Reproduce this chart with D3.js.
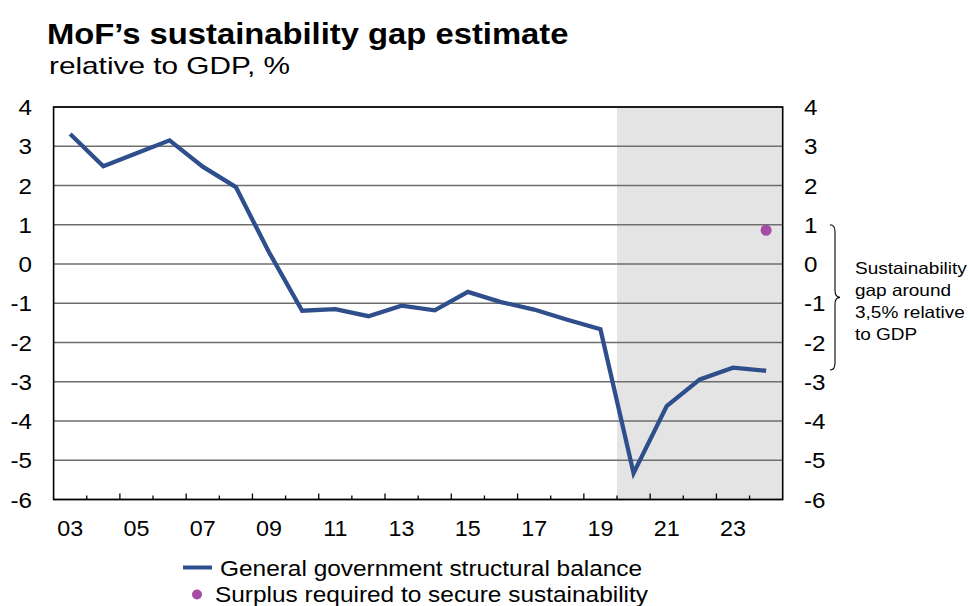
<!DOCTYPE html>
<html>
<head>
<meta charset="utf-8">
<script src="https://cdn.jsdelivr.net/npm/d3@7"></script>
<style>
  body { margin: 0; background: #fff; }
  text { font-family: "Liberation Sans", Arial, sans-serif; fill: #000; }
</style>
</head>
<body>
<svg id="chart" width="970" height="606"></svg>
<script>
// years and values
const years = ["03","04","05","06","07","08","09","10","11","12","13","14","15","16","17","18","19","20","21","22","23","24"];
const balance = [3.31, 2.49, 2.82, 3.15, 2.48, 1.96, 0.3, -1.19, -1.15, -1.33, -1.06, -1.18, -0.71, -0.97, -1.16, -1.42, -1.66, -5.33, -3.62, -2.94, -2.64, -2.72];
const surplusYear = ["24"];
const surplus = [0.86];
const shadeFrom = "20";
const yTicks = [4, 3, 2, 1, 0, -1, -2, -3, -4, -5, -6];
const xLabels = ["03","05","07","09","11","13","15","17","19","21","23"];
const gapNote = ["Sustainability", "gap around", "3,5% relative", "to GDP"];
const braceRange = [1, -2.7];

const lineColor = "#2f4f8c";
const dotColor = "#a54da5";

const svg = d3.select("#chart");
const plotLeft = 53.6, plotRight = 782.7, plotTop = 107, plotBottom = 499.5;

let x = d3.scaleBand().domain(years).range([plotLeft, plotRight]).padding(0);
let y = d3.scaleLinear().domain([-6, 4]).range([plotBottom, plotTop]);

// the source chart's lettering is a bit wider than Arial, so widen it
function widen(sel, k) {
  sel.each(function() {
    let w = this.getComputedTextLength();
    d3.select(this).attr("textLength", w * k).attr("lengthAdjust", "spacingAndGlyphs");
  });
}

// titles
svg.append("text").attr("x", 47).attr("y", 43.5)
  .style("font-size", "29px").style("font-weight", "bold")
  .text("MoF\u2019s sustainability gap estimate")
  .call(widen, 1.13);
svg.append("text").attr("x", 49).attr("y", 74)
  .style("font-size", "24px")
  .text("relative to GDP, %")
  .call(widen, 1.24);

// forecast shading
svg.append("rect")
  .attr("x", x(shadeFrom)).attr("y", plotTop)
  .attr("width", plotRight - x(shadeFrom)).attr("height", plotBottom - plotTop)
  .style("fill", "#e4e4e4");

// gridlines
svg.append("g").selectAll("line")
  .data(yTicks)
  .enter().append("line")
    .attr("x1", plotLeft).attr("x2", plotRight)
    .attr("y1", d => y(d)).attr("y2", d => y(d))
    .style("stroke", "#6e6e6e").style("stroke-width", 1.3);

// x ticks at band edges, long and short alternating
svg.append("g").selectAll("line")
  .data(years.slice(1))
  .enter().append("line")
    .attr("x1", d => x(d)).attr("x2", d => x(d))
    .attr("y1", plotBottom)
    .attr("y2", (d, i) => i % 2 == 1 ? plotBottom - 6 : plotBottom - 4)
    .style("stroke", "#000").style("stroke-width", 1.3);

// plot frame
svg.append("rect")
  .attr("x", plotLeft).attr("y", plotTop)
  .attr("width", plotRight - plotLeft).attr("height", plotBottom - plotTop)
  .style("fill", "none").style("stroke", "#000").style("stroke-width", 1.6);

// y labels both sides
svg.append("g").selectAll("text")
  .data(yTicks)
  .enter().append("text")
    .attr("x", 32).attr("y", d => y(d) + 8)
    .attr("text-anchor", "end")
    .style("font-size", "22px")
    .text(d => d)
    .call(widen, 1.1);
svg.append("g").selectAll("text")
  .data(yTicks)
  .enter().append("text")
    .attr("x", 804).attr("y", d => y(d) + 8)
    .style("font-size", "22px")
    .text(d => d)
    .call(widen, 1.1);

// x labels
svg.append("g").selectAll("text")
  .data(xLabels)
  .enter().append("text")
    .attr("x", d => x(d) + x.bandwidth() / 2)
    .attr("y", 536)
    .attr("text-anchor", "middle")
    .style("font-size", "22px")
    .text(d => d)
    .call(widen, 1.06);

// structural balance line
let line = d3.line()
  .x((d, i) => x(years[i]) + x.bandwidth() / 2)
  .y(d => y(d));
svg.append("path")
  .datum(balance)
  .attr("d", line)
  .style("fill", "none").style("stroke", lineColor)
  .style("stroke-width", 4.3).style("stroke-linejoin", "miter");

// required surplus dot
svg.append("g").selectAll("circle")
  .data(surplus)
  .enter().append("circle")
    .attr("cx", (d, i) => x(surplusYear[i]) + x.bandwidth() / 2)
    .attr("cy", d => y(d))
    .attr("r", 5.5)
    .style("fill", dotColor);

// brace
let b0 = y(braceRange[0]), b1 = y(braceRange[1]), bm = (b0 + b1) / 2;
let bx = 835;
svg.append("path")
  .attr("d", `M${bx - 5},${b0} Q${bx},${b0} ${bx},${b0 + 7} L${bx},${bm - 7} Q${bx},${bm} ${bx + 5},${bm}`
    + ` Q${bx},${bm} ${bx},${bm + 7} L${bx},${b1 - 7} Q${bx},${b1} ${bx - 5},${b1}`)
  .style("fill", "none").style("stroke", "#000").style("stroke-width", 1.1);

svg.append("g").selectAll("text")
  .data(gapNote)
  .enter().append("text")
    .attr("x", 855).attr("y", (d, i) => 274 + i * 22)
    .style("font-size", "16.5px")
    .text(d => d)
    .call(widen, 1.15);

// legend
svg.append("line")
  .attr("x1", 183).attr("x2", 212).attr("y1", 567.5).attr("y2", 567.5)
  .style("stroke", lineColor).style("stroke-width", 4);
svg.append("text").attr("x", 220).attr("y", 576)
  .style("font-size", "22px")
  .text("General government structural balance")
  .call(widen, 1.11);
svg.append("circle")
  .attr("cx", 197).attr("cy", 594.5).attr("r", 5)
  .style("fill", dotColor);
svg.append("text").attr("x", 215).attr("y", 601.5)
  .style("font-size", "22px")
  .text("Surplus required to secure sustainability")
  .call(widen, 1.11);
</script>
</body>
</html>
